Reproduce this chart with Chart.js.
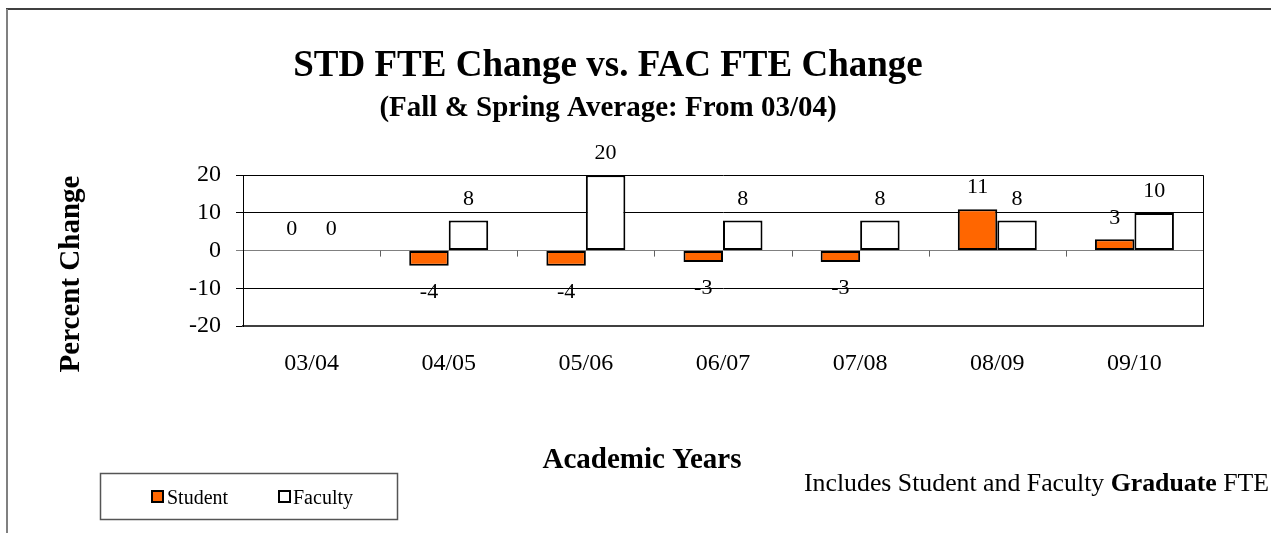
<!DOCTYPE html>
<html>
<head>
<meta charset="utf-8">
<title>STD FTE Change vs. FAC FTE Change</title>
<script src="https://cdn.jsdelivr.net/npm/chart.js@4.4.1/dist/chart.umd.min.js"></script>
<style>
  html, body { margin: 0; padding: 0; background: #fff; }
  #wrap { width: 1271px; height: 533px; position: relative; }
</style>
</head>
<body>
<div id="wrap"><canvas id="chartFte"></canvas></div>
<script>
// chart data
const years = ['03/04', '04/05', '05/06', '06/07', '07/08', '08/09', '09/10'];
const studentChange = [0, -4, -4, -3, -3, 11, 3];
const facultyChange = [0, 8, 20, 8, 8, 8, 10];
const yTicks = [-20, -10, 0, 10, 20];

const SERIF = '"Liberation Serif", "Times New Roman", serif';

// value labels outside the end of each bar
const barLabels = {
    id: 'barLabels',
    afterDatasetsDraw(chart) {
        const ctx = chart.ctx;
        ctx.save();
        ctx.font = '22px ' + SERIF;
        ctx.fillStyle = '#000';
        ctx.textAlign = 'center';
        ctx.textBaseline = 'middle';
        chart.data.datasets.forEach((ds, i) => {
            chart.getDatasetMeta(i).data.forEach((bar, j) => {
                const v = ds.data[j];
                const y = v >= 0 ? bar.y - 21.5 : bar.y + 26.5;
                ctx.fillText(String(v), bar.x, y);
            });
        });
        ctx.restore();
    }
};

// frame, axis titles, legend box and note
const decor = {
    id: 'decor',
    afterDraw(chart) {
        const ctx = chart.ctx;
        const xs = chart.scales.x;
        const ys = chart.scales.y;
        const area = chart.chartArea;
        ctx.save();

        // outer frame
        ctx.lineWidth = 2;
        ctx.strokeStyle = '#404040';
        ctx.beginPath(); ctx.moveTo(6, 9); ctx.lineTo(1271, 9); ctx.stroke();
        ctx.strokeStyle = '#808080';
        ctx.beginPath(); ctx.moveTo(7, 9); ctx.lineTo(7, 533); ctx.stroke();

        // right edge of plot
        ctx.lineWidth = 1;
        ctx.strokeStyle = '#000';
        ctx.beginPath(); ctx.moveTo(area.right + 0.5, area.top); ctx.lineTo(area.right + 0.5, area.bottom); ctx.stroke();

        // category ticks on the zero line
        const y0 = ys.getPixelForValue(0);
        ctx.strokeStyle = '#606060';
        for (let i = 1; i < years.length; i++) {
            const x = Math.round((xs.getPixelForValue(i - 1) + xs.getPixelForValue(i)) / 2) + 0.5;
            ctx.beginPath(); ctx.moveTo(x, y0); ctx.lineTo(x, y0 + 6); ctx.stroke();
        }

        // axis titles
        ctx.fillStyle = '#000';
        ctx.font = 'bold 29px ' + SERIF;
        ctx.textAlign = 'center';
        ctx.textBaseline = 'middle';
        ctx.fillText('Academic Years', 642, 461);
        ctx.save();
        ctx.translate(72, 274);
        ctx.rotate(-Math.PI / 2);
        ctx.fillText('Percent Change', 0, 0);
        ctx.restore();

        // legend
        ctx.lineWidth = 1.5;
        ctx.strokeStyle = '#555';
        ctx.strokeRect(100.5, 473.5, 297, 46);
        const items = [[152, 167], [279, 293]];
        ctx.font = '20px ' + SERIF;
        ctx.textAlign = 'left';
        ctx.textBaseline = 'alphabetic';
        chart.data.datasets.forEach((ds, i) => {
            const [mx, tx] = items[i];
            ctx.fillStyle = ds.backgroundColor;
            ctx.fillRect(mx, 491, 11, 11);
            ctx.lineWidth = 2;
            ctx.strokeStyle = '#000';
            ctx.strokeRect(mx, 491, 11, 11);
            ctx.fillStyle = '#000';
            ctx.fillText(ds.label, tx, 504);
        });

        // note
        let x = 804;
        const parts = [['Includes Student and Faculty ', ''], ['Graduate', 'bold '], [' FTE', '']];
        parts.forEach(([t, w]) => {
            ctx.font = w + '25.8px ' + SERIF;
            ctx.fillText(t, x, 491);
            x += ctx.measureText(t).width;
        });

        ctx.restore();
    }
};

window.onload = function () {
    const ctx = document.getElementById('chartFte').getContext('2d');
    new Chart(ctx, {
        type: 'bar',
        data: {
            labels: years,
            datasets: [{
                label: 'Student',
                data: studentChange,
                backgroundColor: '#FF6600',
                borderColor: '#000',
                borderWidth: (c) => c.raw === 0 ? 0 : 2,
                borderSkipped: false
            }, {
                label: 'Faculty',
                data: facultyChange,
                backgroundColor: '#FFFFFF',
                borderColor: '#000',
                borderWidth: (c) => c.raw === 0 ? 0 : 2,
                borderSkipped: false
            }]
        },
        options: {
            responsive: true,
            maintainAspectRatio: false,
            animation: false,
            layout: {
                padding: { left: 13, right: 68, top: 0, bottom: 0 }
            },
            datasets: {
                bar: { categoryPercentage: 0.576, barPercentage: 1 }
            },
            plugins: {
                legend: { display: false },
                tooltip: { enabled: false },
                title: {
                    display: true,
                    text: 'STD FTE Change vs. FAC FTE Change',
                    color: '#000',
                    font: { family: SERIF, size: 37, weight: 'bold', lineHeight: 1.2 },
                    padding: { top: 44.5, bottom: 0 }
                },
                subtitle: {
                    display: true,
                    text: '(Fall & Spring Average: From 03/04)',
                    color: '#000',
                    font: { family: SERIF, size: 29, weight: 'bold', lineHeight: 1 },
                    padding: { top: 5.5, bottom: 51.8 }
                }
            },
            scales: {
                x: {
                    grid: { display: false, drawTicks: false },
                    border: { display: true, color: '#404040', width: 2 },
                    ticks: { color: '#000', font: { family: SERIF, size: 24 }, padding: 23 },
                    afterFit: (scale) => { scale.height = 207; }
                },
                y: {
                    min: -20,
                    max: 20,
                    afterBuildTicks: (scale) => { scale.ticks = yTicks.map(v => ({ value: v })); },
                    grid: {
                        color: (c) => c.tick && c.tick.value === 0 ? '#808080' : '#000',
                        lineWidth: 1,
                        tickLength: 7
                    },
                    border: { display: true, color: '#000', width: 1 },
                    ticks: { color: '#000', font: { family: SERIF, size: 24 }, padding: 15 },
                    afterFit: (scale) => { scale.width = 230; }
                }
            }
        },
        plugins: [barLabels, decor]
    });
};
</script>
</body>
</html>
